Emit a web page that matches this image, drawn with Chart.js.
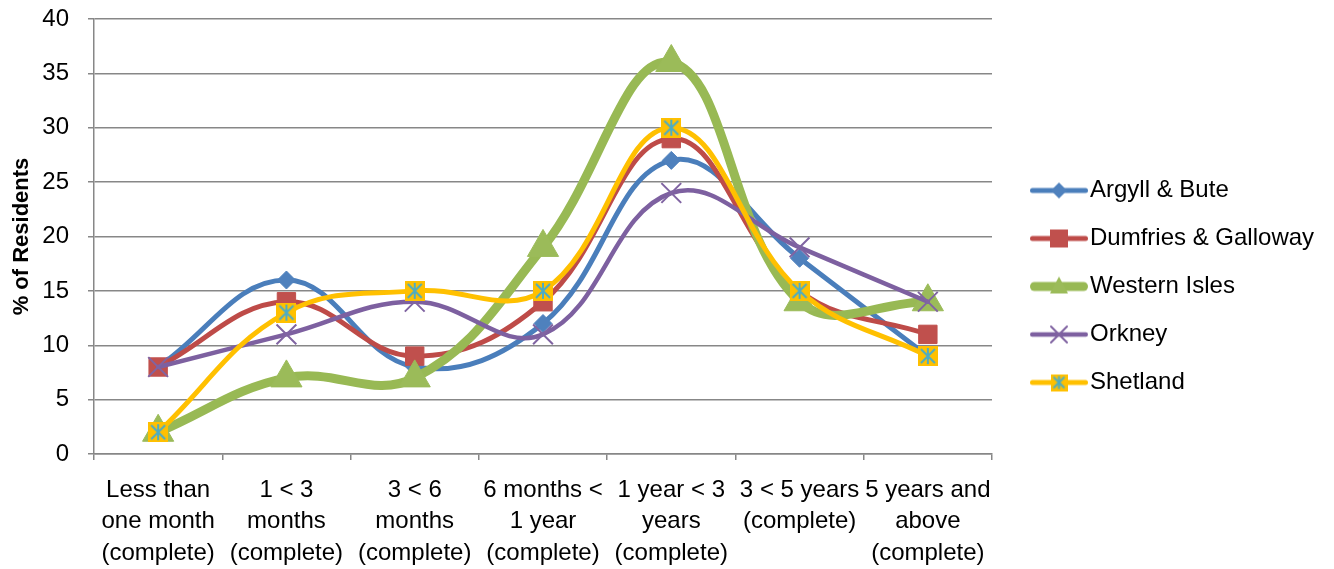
<!DOCTYPE html>
<html>
<head>
<meta charset="utf-8">
<title>Length of residence</title>
<script src="https://cdn.jsdelivr.net/npm/chart.js@4.4.1/dist/chart.umd.min.js"></script>
<style>
  html, body { margin: 0; padding: 0; background: #ffffff; }
  #wrap { width: 1334px; height: 569px; }
</style>
</head>
<body>
<div id="wrap"><canvas id="chart" width="1334" height="569"></canvas></div>
<script>
// Length of residence categories (multi-line tick labels)
const categories = [
  ["Less than", "one month", "(complete)"],
  ["1 < 3", "months", "(complete)"],
  ["3 < 6", "months", "(complete)"],
  ["6 months <", "1 year", "(complete)"],
  ["1 year < 3", "years", "(complete)"],
  ["3 < 5 years", "(complete)"],
  ["5 years and", "above", "(complete)"]
];

// % of residents per area
const argyllBute       = [8, 16, 8, 12, 27, 18, 9];
const dumfriesGalloway = [8, 14, 9, 14, 29, 15, 11];
const westernIsles     = [2, 7, 7, 19, 36, 14, 14];
const orkney           = [8, 11, 14, 11, 24, 19, 14];
const shetland         = [2, 13, 15, 15, 30, 15, 9];

const seriesNames = ["Argyll & Bute", "Dumfries & Galloway", "Western Isles", "Orkney", "Shetland"];

// y axis range
const yMin = 0, yMax = 40, yStep = 5;

// ---- styling ----
const FONT = "'Liberation Sans', Arial, sans-serif";
const GRID = '#878787';
const TEXT = '#000000';
const LEGEND_FONT = 24;
const LEGEND_PAD = 24;
const LEGEND_BOX = 62;
const PLOT_LEFT = 94;
const PLOT_TOP = 19;
const PLOT_RIGHT = 992;
const X_AXIS_H = 115;
const CANVAS_W = 1334;

Chart.defaults.font.family = FONT;
Chart.defaults.color = TEXT;

const COL = {
  blue:   { line: '#4A7EBB', fill: '#4F81BD' },
  red:    { line: '#BE4B48', fill: '#C0504D' },
  green:  { line: '#98B954', fill: '#9BBB59' },
  purple: { line: '#7D60A0', fill: '#8064A2' },
  yellow: { line: '#FFC000', fill: '#FFC000' },
  cyan:   '#4BACC6'
};

// Yellow square with a cyan asterisk (Shetland marker)
function starSquare(size) {
  const c = document.createElement('canvas');
  c.width = size; c.height = size;
  const g = c.getContext('2d');
  g.fillStyle = COL.yellow.fill;
  g.fillRect(0, 0, size, size);
  g.strokeStyle = COL.cyan;
  g.lineWidth = 2;
  const m = 2;
  g.beginPath();
  g.moveTo(size / 2, m); g.lineTo(size / 2, size - m);
  g.moveTo(m + 1, m + 1); g.lineTo(size - m - 1, size - m - 1);
  g.moveTo(size - m - 1, m + 1); g.lineTo(m + 1, size - m - 1);
  g.stroke();
  return c;
}

// Legend swatch: a short line with the series marker in its middle
const SW_W = 82, SW_H = 34, SW_LINE_START = 24, SW_MARK_X = 53;
function swatch(lineColor, lineWidth, drawMarker) {
  const c = document.createElement('canvas');
  c.width = SW_W; c.height = SW_H;
  const g = c.getContext('2d');
  const cy = SW_H / 2;
  g.strokeStyle = lineColor;
  g.lineWidth = lineWidth;
  g.lineCap = 'round';
  g.beginPath();
  g.moveTo(SW_LINE_START + lineWidth / 2, cy);
  g.lineTo(SW_W - lineWidth / 2, cy);
  g.stroke();
  drawMarker(g, SW_MARK_X, cy);
  return c;
}

const legendSwatches = [
  swatch(COL.blue.line, 5, (g, x, y) => {
    g.fillStyle = COL.blue.fill;
    g.beginPath();
    g.moveTo(x, y - 8); g.lineTo(x + 8, y); g.lineTo(x, y + 8); g.lineTo(x - 8, y);
    g.closePath(); g.fill();
  }),
  swatch(COL.red.line, 5, (g, x, y) => {
    g.fillStyle = COL.red.fill;
    g.fillRect(x - 9, y - 9, 18, 18);
  }),
  swatch(COL.green.line, 9, (g, x, y) => {
    g.fillStyle = COL.green.fill;
    g.beginPath();
    g.moveTo(x, y - 10); g.lineTo(x + 9, y + 7); g.lineTo(x - 9, y + 7);
    g.closePath(); g.fill();
  }),
  swatch(COL.purple.line, 4.5, (g, x, y) => {
    g.strokeStyle = COL.purple.fill;
    g.lineWidth = 2;
    g.beginPath();
    g.moveTo(x - 8, y - 8); g.lineTo(x + 8, y + 8);
    g.moveTo(x + 8, y - 8); g.lineTo(x - 8, y + 8);
    g.stroke();
  }),
  swatch(COL.yellow.line, 5, (g, x, y) => {
    g.drawImage(starSquare(17), x - 8.5, y - 8.5);
  })
];

// Reserve the right-hand strip so the plot ends at PLOT_RIGHT.
// A side legend is limited to a quarter of the available width when
// it shares the horizontal space with the y axis.
const measureCtx = document.createElement('canvas').getContext('2d');
measureCtx.font = `normal ${LEGEND_FONT}px ${FONT}`;
const longestLabel = Math.max(...seriesNames.map(t => measureCtx.measureText(t).width));
const legendNatural = LEGEND_PAD + LEGEND_BOX + LEGEND_FONT / 2 + longestLabel + 10;
const cappedPad = CANVAS_W - PLOT_RIGHT * 4 / 3;
const rightPad = legendNatural >= (CANVAS_W - cappedPad) / 4
  ? cappedPad
  : Math.max(0, CANVAS_W - PLOT_RIGHT - legendNatural);

const common = {
  tension: 0.4,
  fill: false,
  borderCapStyle: 'round',
  borderJoinStyle: 'round',
  pointHoverRadius: 0
};

const datasets = [
  Object.assign({}, common, {
    label: seriesNames[0], data: argyllBute,
    borderColor: COL.blue.line, backgroundColor: COL.blue.fill, borderWidth: 5,
    pointStyle: 'rectRot', pointRadius: 9,
    pointBackgroundColor: COL.blue.fill, pointBorderColor: COL.blue.fill, pointBorderWidth: 1,
    order: 5
  }),
  Object.assign({}, common, {
    label: seriesNames[1], data: dumfriesGalloway,
    borderColor: COL.red.line, backgroundColor: COL.red.fill, borderWidth: 5,
    pointStyle: 'rect', pointRadius: 13,
    pointBackgroundColor: COL.red.fill, pointBorderColor: COL.red.fill, pointBorderWidth: 1,
    order: 4
  }),
  Object.assign({}, common, {
    label: seriesNames[2], data: westernIsles,
    borderColor: COL.green.line, backgroundColor: COL.green.fill, borderWidth: 9,
    pointStyle: 'triangle', pointRadius: 18,
    pointBackgroundColor: COL.green.fill, pointBorderColor: COL.green.fill, pointBorderWidth: 1,
    order: 3
  }),
  Object.assign({}, common, {
    label: seriesNames[3], data: orkney,
    borderColor: COL.purple.line, backgroundColor: COL.purple.fill, borderWidth: 4.5,
    pointStyle: 'crossRot', pointRadius: 14,
    pointBackgroundColor: COL.purple.fill, pointBorderColor: COL.purple.fill, pointBorderWidth: 2,
    order: 2
  }),
  Object.assign({}, common, {
    label: seriesNames[4], data: shetland,
    borderColor: COL.yellow.line, backgroundColor: COL.yellow.fill, borderWidth: 5,
    pointStyle: starSquare(20), pointRadius: 10,
    order: 1
  })
];

new Chart(document.getElementById('chart'), {
  type: 'line',
  data: { labels: categories, datasets },
  options: {
    responsive: false,
    animation: false,
    devicePixelRatio: 1,
    layout: { padding: { top: 4, right: rightPad, bottom: 0, left: 0 } },
    plugins: {
      tooltip: { enabled: false },
      legend: {
        position: 'right',
        align: 'center',
        labels: {
          usePointStyle: true,
          pointStyleWidth: LEGEND_BOX,
          boxHeight: LEGEND_FONT,
          padding: LEGEND_PAD,
          color: TEXT,
          font: { size: LEGEND_FONT, family: FONT },
          generateLabels: chart => chart.data.datasets.map((ds, i) => ({
            text: ds.label,
            pointStyle: legendSwatches[i],
            fillStyle: ds.backgroundColor,
            strokeStyle: ds.borderColor,
            lineWidth: 0,
            hidden: false,
            datasetIndex: i
          }))
        }
      }
    },
    scales: {
      x: {
        offset: true,
        grid: {
          offset: true,
          drawOnChartArea: false,
          drawTicks: true,
          tickLength: 6,
          color: GRID,
          lineWidth: 1.5
        },
        border: { color: GRID, width: 1.5 },
        ticks: {
          color: TEXT,
          autoSkip: false,
          maxRotation: 0,
          padding: 15,
          font: { size: 24, family: FONT, lineHeight: 1.3 }
        },
        afterFit: scale => { scale.height = X_AXIS_H; }
      },
      y: {
        min: yMin,
        max: yMax,
        grid: { color: GRID, lineWidth: 1.5, tickLength: 6 },
        border: { color: GRID, width: 1.5 },
        ticks: {
          stepSize: yStep,
          color: TEXT,
          padding: 19,
          font: { size: 24, family: FONT }
        },
        title: {
          display: true,
          text: '% of Residents',
          color: TEXT,
          font: { size: 22, weight: 'bold', family: FONT },
          padding: { top: 9, bottom: 0 }
        },
        afterFit: scale => {
          scale.width = PLOT_LEFT;
          scale.paddingTop = PLOT_TOP;
          scale.paddingBottom = 0;
        }
      }
    }
  }
});
</script>
</body>
</html>
